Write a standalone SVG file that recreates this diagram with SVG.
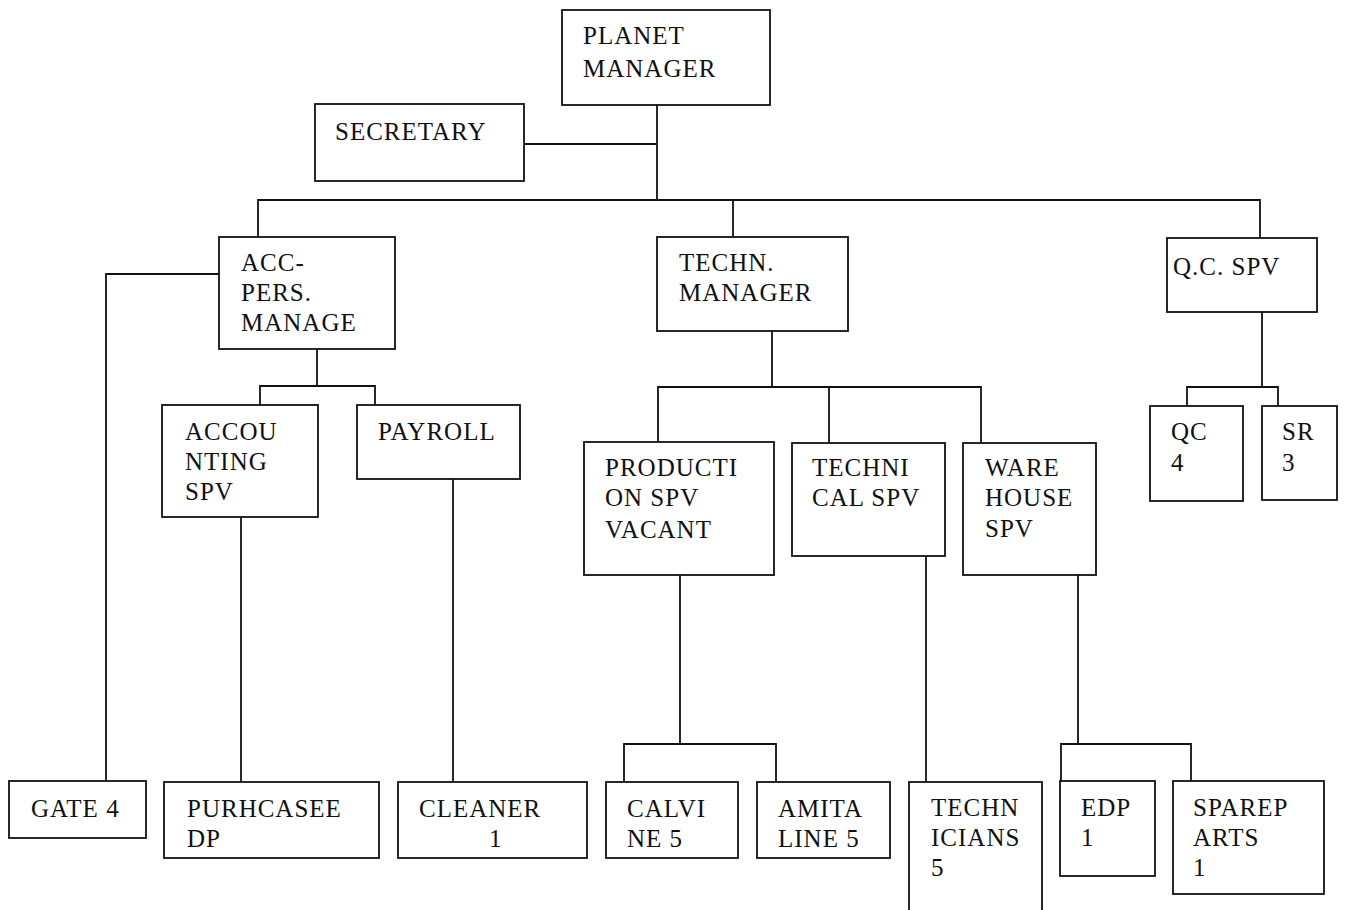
<svg xmlns="http://www.w3.org/2000/svg" width="1345" height="910" viewBox="0 0 1345 910">
<style>
rect.box{fill:#fff;stroke:#111;stroke-width:1.8}
.c line,.c polyline{fill:none;stroke:#111;stroke-width:1.8}
text{font-family:"Liberation Serif","Times New Roman",serif;font-size:25px;letter-spacing:1px;fill:#111}
</style>
<rect width="1345" height="910" fill="#fff"/>
<g class="c" id="connectors">
<line x1="657" y1="105" x2="657" y2="200"/>
<line x1="524" y1="144" x2="657" y2="144"/>
<polyline points="258,237 258,200 1260,200 1260,238"/>
<line x1="733" y1="200" x2="733" y2="237"/>
<polyline points="219,274 106,274 106,782"/>
<line x1="317" y1="349" x2="317" y2="386"/>
<polyline points="260,405 260,386 375,386 375,405"/>
<line x1="241" y1="517" x2="241" y2="782"/>
<line x1="453" y1="479" x2="453" y2="782"/>
<line x1="772" y1="331" x2="772" y2="387"/>
<polyline points="658,442 658,387 981,387 981,443"/>
<line x1="829" y1="387" x2="829" y2="443"/>
<line x1="680" y1="575" x2="680" y2="744"/>
<polyline points="624,782 624,744 776,744 776,782"/>
<line x1="926" y1="556" x2="926" y2="782"/>
<line x1="1078" y1="575" x2="1078" y2="744"/>
<polyline points="1061,781 1061,744 1191,744 1191,781"/>
<line x1="1262" y1="312" x2="1262" y2="387"/>
<polyline points="1187,406 1187,387 1278,387 1278,406"/>
</g>
<g id="planet-manager"><rect class="box" x="562" y="10" width="208" height="95"/><text x="583" y="44">PLANET</text><text x="583" y="77">MANAGER</text></g>
<g id="secretary"><rect class="box" x="315" y="104" width="209" height="77"/><text x="335" y="140">SECRETARY</text></g>
<g id="acc-pers"><rect class="box" x="219" y="237" width="176" height="112"/><text x="241" y="271">ACC-</text><text x="241" y="301">PERS.</text><text x="241" y="331">MANAGE</text></g>
<g id="techn-manager"><rect class="box" x="657" y="237" width="191" height="94"/><text x="679" y="271">TECHN.</text><text x="679" y="301">MANAGER</text></g>
<g id="qc-spv"><rect class="box" x="1167" y="238" width="150" height="74"/><text x="1173" y="275">Q.C. SPV</text></g>
<g id="accounting"><rect class="box" x="162" y="405" width="156" height="112"/><text x="185" y="440">ACCOU</text><text x="185" y="470">NTING</text><text x="185" y="500">SPV</text></g>
<g id="payroll"><rect class="box" x="357" y="405" width="163" height="74"/><text x="378" y="440">PAYROLL</text></g>
<g id="production"><rect class="box" x="584" y="442" width="190" height="133"/><text x="605" y="476">PRODUCTI</text><text x="605" y="506">ON SPV</text><text x="605" y="538">VACANT</text></g>
<g id="technical"><rect class="box" x="792" y="443" width="153" height="113"/><text x="812" y="476">TECHNI</text><text x="812" y="506">CAL SPV</text></g>
<g id="warehouse"><rect class="box" x="963" y="443" width="133" height="132"/><text x="985" y="476">WARE</text><text x="985" y="506">HOUSE</text><text x="985" y="537">SPV</text></g>
<g id="qc"><rect class="box" x="1150" y="406" width="93" height="95"/><text x="1171" y="440">QC</text><text x="1171" y="471">4</text></g>
<g id="sr"><rect class="box" x="1262" y="406" width="75" height="94"/><text x="1282" y="440">SR</text><text x="1282" y="471">3</text></g>
<g id="gate"><rect class="box" x="9" y="781" width="137" height="57"/><text x="31" y="817">GATE 4</text></g>
<g id="purchase"><rect class="box" x="164" y="782" width="215" height="76"/><text x="187" y="817">PURHCASEE</text><text x="187" y="847">DP</text></g>
<g id="cleaner"><rect class="box" x="398" y="782" width="189" height="76"/><text x="419" y="817">CLEANER</text><text x="489" y="847">1</text></g>
<g id="calvine"><rect class="box" x="606" y="782" width="132" height="76"/><text x="627" y="817">CALVI</text><text x="627" y="847">NE 5</text></g>
<g id="amita"><rect class="box" x="757" y="782" width="133" height="76"/><text x="778" y="817">AMITA</text><text x="778" y="847">LINE 5</text></g>
<g id="technicians"><rect class="box" x="909" y="782" width="133" height="140"/><text x="931" y="816">TECHN</text><text x="931" y="846">ICIANS</text><text x="931" y="876">5</text></g>
<g id="edp"><rect class="box" x="1060" y="781" width="95" height="95"/><text x="1081" y="816">EDP</text><text x="1081" y="846">1</text></g>
<g id="spareparts"><rect class="box" x="1173" y="781" width="151" height="113"/><text x="1193" y="816">SPAREP</text><text x="1193" y="846">ARTS</text><text x="1193" y="876">1</text></g>
</svg>
